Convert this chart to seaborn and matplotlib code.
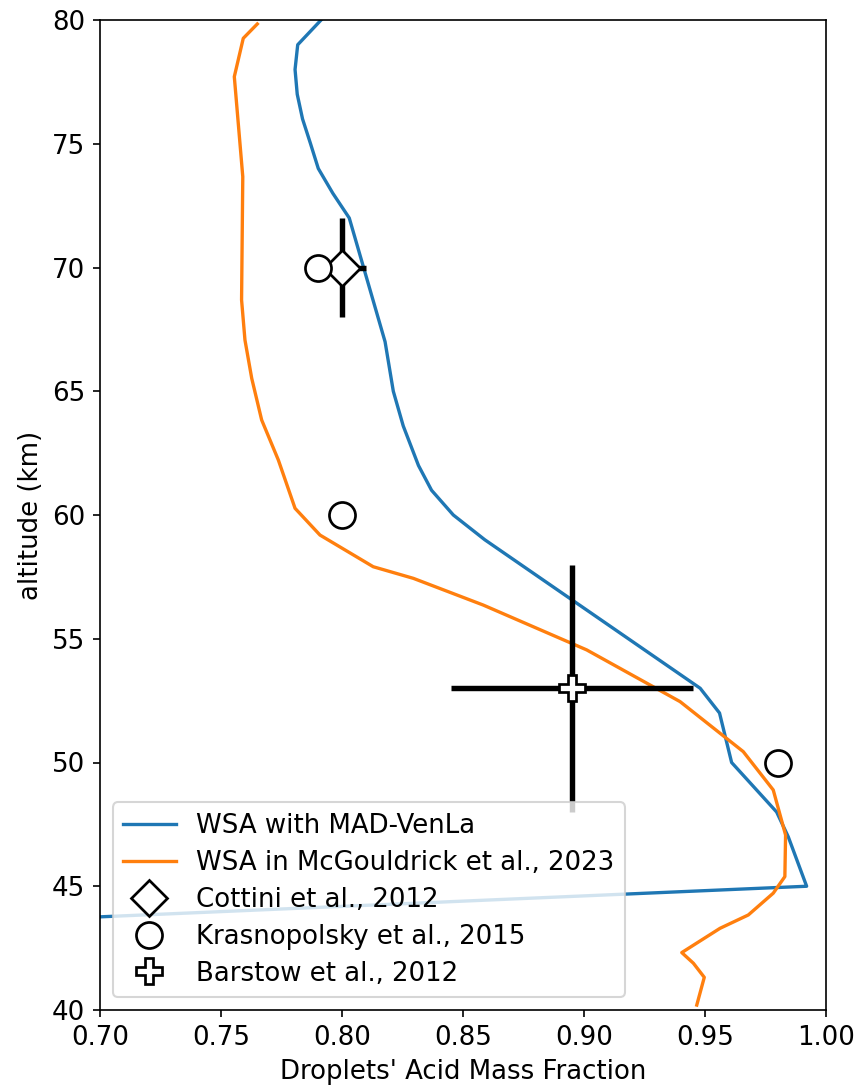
import matplotlib
matplotlib.use("Agg")
import matplotlib.pyplot as plt
import seaborn as sns
import pandas as pd

# WSA mass fraction profile computed with MAD-VenLa
mad_frac = [0.801, 0.7817, 0.7806, 0.7815, 0.7837, 0.7870, 0.7902, 0.7962, 0.803,
            0.8178, 0.8212, 0.8253, 0.8316, 0.837, 0.846, 0.859, 0.948, 0.956,
            0.961, 0.9796, 0.9844, 0.992, 0.0]
mad_alt = [81, 79, 78, 77, 76, 75, 74, 73, 72,
           67, 65, 63.6, 62, 61, 60, 59, 53, 52,
           50, 48, 47, 45, 40.8]

# WSA mass fraction profile from McGouldrick et al., 2023
mcg_frac = [0.765, 0.7592, 0.7555, 0.759, 0.7585, 0.7599, 0.7627, 0.7668, 0.7737,
            0.7806, 0.7909, 0.8129, 0.8295, 0.8584, 0.9011, 0.9397, 0.9658, 0.9782,
            0.9833, 0.983, 0.9782, 0.9679, 0.9562, 0.9404, 0.9452, 0.9497, 0.9466]
mcg_alt = [79.84, 79.26, 77.71, 73.67, 68.69, 67.07, 65.52, 63.84, 62.22,
           60.27, 59.19, 57.91, 57.44, 56.36, 54.55, 52.46, 50.44, 48.89,
           47.07, 45.39, 44.72, 43.84, 43.30, 42.32, 41.89, 41.32, 40.2]

# Observations
cottini_frac, cottini_alt = [0.80], [70]
cottini_xerr, cottini_yerr = [0.01], [2]
kras_frac, kras_alt = [0.79, 0.80, 0.98], [70, 60, 50]
barstow_frac, barstow_alt = [0.895], [53]
barstow_xerr, barstow_yerr = [0.05], [5]

plt.rcParams["font.size"] = 12.5
fig = plt.figure(figsize=(857 / 150, 1089 / 150), dpi=150)
ax = fig.add_axes([100 / 857, 1 - 1010 / 1089, 726 / 857, 990 / 1089])

mad_df = pd.DataFrame({"frac": mad_frac, "alt": mad_alt})
mcg_df = pd.DataFrame({"frac": mcg_frac, "alt": mcg_alt})
sns.lineplot(data=mad_df, x="frac", y="alt", sort=False, estimator=None,
             color="#1f77b4", linewidth=1.6, label="WSA with MAD-VenLa", ax=ax)
sns.lineplot(data=mcg_df, x="frac", y="alt", sort=False, estimator=None,
             color="#ff7f0e", linewidth=1.6, label="WSA in McGouldrick et al., 2023", ax=ax)

marker_style = dict(linestyle="none", markersize=12.5, markerfacecolor="white",
                    markeredgecolor="black", markeredgewidth=1.3, zorder=4)

ax.errorbar(cottini_frac, cottini_alt, xerr=cottini_xerr, yerr=cottini_yerr,
            fmt="none", ecolor="black", elinewidth=2.6, zorder=3)
ax.plot(cottini_frac, cottini_alt, marker="D", label="Cottini et al., 2012", **marker_style)
ax.plot(kras_frac, kras_alt, marker="o", label="Krasnopolsky et al., 2015", **marker_style)
ax.errorbar(barstow_frac, barstow_alt, xerr=barstow_xerr, yerr=barstow_yerr,
            fmt="none", ecolor="black", elinewidth=2.6, zorder=3)
ax.plot(barstow_frac, barstow_alt, marker="P", label="Barstow et al., 2012", **marker_style)

ax.set_xlim(0.70, 1.00)
ax.set_ylim(40, 80)
ax.set_xticks([0.70, 0.75, 0.80, 0.85, 0.90, 0.95, 1.00])
ax.set_xticklabels(["0.70", "0.75", "0.80", "0.85", "0.90", "0.95", "1.00"])
ax.set_yticks([40, 45, 50, 55, 60, 65, 70, 75, 80])
ax.set_xlabel("Droplets' Acid Mass Fraction")
ax.set_ylabel("altitude (km)")
ax.legend(loc="lower left", labelspacing=0.42)

fig.savefig("out.png", dpi=150)
